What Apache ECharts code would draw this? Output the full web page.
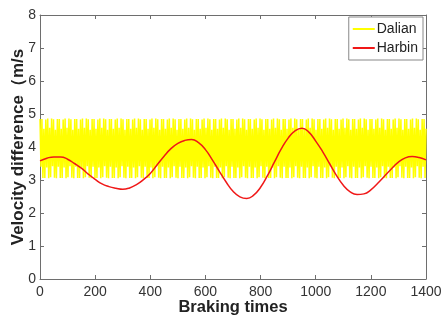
<!DOCTYPE html>
<html>
<head>
<meta charset="utf-8">
<script src="https://cdn.jsdelivr.net/npm/echarts@6/dist/echarts.min.js"></script>
<style>html,body{margin:0;padding:0;background:#fff}#c{width:441px;height:321px}</style>
</head>
<body>
<div id="c"></div>
<script>
// Axis ticks
const xTicks = [0, 200, 400, 600, 800, 1000, 1200, 1400];
const yTicks = [0, 1, 2, 3, 4, 5, 6, 7, 8];

// Dalian: dense oscillation, sampled every 3.5 braking times starting at 0
const dalianStart = 0;
const dalianStep = 3.5;
const dalianValues = [
4.85,3.40,4.85,3.06,4.55,3.06,4.83,3.38,4.86,3.05,4.58,3.08,
4.86,3.42,4.84,3.07,4.52,3.05,4.85,3.40,4.85,3.06,4.55,3.06,
4.83,3.38,4.86,3.05,4.58,3.08,4.86,3.42,4.84,3.07,4.52,3.05,
4.85,3.40,4.85,3.06,4.55,3.06,4.83,3.38,4.86,3.05,4.58,3.08,
4.86,3.42,4.84,3.07,4.52,3.05,4.85,3.40,4.85,3.06,4.55,3.06,
4.83,3.38,4.86,3.05,4.58,3.08,4.86,3.42,4.84,3.07,4.52,3.05,
4.85,3.40,4.85,3.06,4.55,3.06,4.83,3.38,4.86,3.05,4.58,3.08,
4.86,3.42,4.84,3.07,4.52,3.05,4.85,3.40,4.85,3.06,4.55,3.06,
4.83,3.38,4.86,3.05,4.58,3.08,4.86,3.42,4.84,3.07,4.52,3.05,
4.85,3.40,4.85,3.06,4.55,3.06,4.83,3.38,4.86,3.05,4.58,3.08,
4.86,3.42,4.84,3.07,4.52,3.05,4.85,3.40,4.85,3.06,4.55,3.06,
4.83,3.38,4.86,3.05,4.58,3.08,4.86,3.42,4.84,3.07,4.52,3.05,
4.85,3.40,4.85,3.06,4.55,3.06,4.83,3.38,4.86,3.05,4.58,3.08,
4.86,3.42,4.84,3.07,4.52,3.05,4.85,3.40,4.85,3.06,4.55,3.06,
4.83,3.38,4.86,3.05,4.58,3.08,4.86,3.42,4.84,3.07,4.52,3.05,
4.85,3.40,4.85,3.06,4.55,3.06,4.83,3.38,4.86,3.05,4.58,3.08,
4.86,3.42,4.84,3.07,4.52,3.05,4.85,3.40,4.85,3.06,4.55,3.06,
4.83,3.38,4.86,3.05,4.58,3.08,4.86,3.42,4.84,3.07,4.52,3.05,
4.85,3.40,4.85,3.06,4.55,3.06,4.83,3.38,4.86,3.05,4.58,3.08,
4.86,3.42,4.84,3.07,4.52,3.05,4.85,3.40,4.85,3.06,4.55,3.06,
4.83,3.38,4.86,3.05,4.58,3.08,4.86,3.42,4.84,3.07,4.52,3.05,
4.85,3.40,4.85,3.06,4.55,3.06,4.83,3.38,4.86,3.05,4.58,3.08,
4.86,3.42,4.84,3.07,4.52,3.05,4.85,3.40,4.85,3.06,4.55,3.06,
4.83,3.38,4.86,3.05,4.58,3.08,4.86,3.42,4.84,3.07,4.52,3.05,
4.85,3.40,4.85,3.06,4.55,3.06,4.83,3.38,4.86,3.05,4.58,3.08,
4.86,3.42,4.84,3.07,4.52,3.05,4.85,3.40,4.85,3.06,4.55,3.06,
4.83,3.38,4.86,3.05,4.58,3.08,4.86,3.42,4.84,3.07,4.52,3.05,
4.85,3.40,4.85,3.06,4.55,3.06,4.83,3.38,4.86,3.05,4.58,3.08,
4.86,3.42,4.84,3.07,4.52,3.05,4.85,3.40,4.85,3.06,4.55,3.06,
4.83,3.38,4.86,3.05,4.58,3.08,4.86,3.42,4.84,3.07,4.52,3.05,
4.85,3.40,4.85,3.06,4.55,3.06,4.83,3.38,4.86,3.05,4.58,3.08,
4.86,3.42,4.84,3.07,4.52,3.05,4.85,3.40,4.85,3.06,4.55,3.06,
4.83,3.38,4.86,3.05,4.58,3.08,4.86,3.42,4.84,3.07,4.52,3.05,
4.85,3.40,4.85,3.06,4.55
];

// Harbin: smooth curve, read every 25 braking times
const harbinX = [0,25,50,75,100,125,150,175,200,225,250,275,300,325,350,375,400,425,450,475,500,525,550,575,600,625,650,675,700,725,750,775,800,825,850,875,900,925,950,975,1000,1025,1050,1075,1100,1125,1150,1175,1200,1225,1250,1275,1300,1325,1350,1375,1400];
const harbinY = [3.58,3.66,3.70,3.70,3.63,3.50,3.36,3.18,3.02,2.88,2.80,2.75,2.72,2.76,2.86,3.01,3.20,3.46,3.72,3.95,4.11,4.20,4.23,4.13,3.92,3.61,3.27,2.94,2.66,2.49,2.44,2.54,2.78,3.13,3.54,3.94,4.27,4.49,4.57,4.45,4.18,3.86,3.50,3.14,2.84,2.64,2.56,2.58,2.70,2.90,3.12,3.34,3.54,3.67,3.71,3.68,3.61];

const seriesNames = ['Dalian', 'Harbin'];
const xName = 'Braking times';
const yName = 'Velocity difference（m/s';

const dalianData = dalianValues.map((v, i) => [dalianStart + i * dalianStep, v]);
const harbinData = harbinX.map((x, i) => [x, harbinY[i]]);

const frameColor = '#6e6e6e';
const labelColor = '#333';
const font = 'Liberation Sans, Arial, sans-serif';

const chart = echarts.init(document.getElementById('c'), null, {renderer: 'canvas'});
const baseX = {
  type: 'value', min: xTicks[0], max: xTicks[xTicks.length - 1], interval: xTicks[1] - xTicks[0],
  splitLine: {show: false},
  axisLine: {show: true, onZero: false, lineStyle: {color: frameColor, width: 1}},
  axisTick: {show: true, inside: true, length: 4, lineStyle: {color: frameColor}},
};
const baseY = {
  type: 'value', min: yTicks[0], max: yTicks[yTicks.length - 1], interval: yTicks[1] - yTicks[0],
  splitLine: {show: false},
  axisLine: {show: true, onZero: false, lineStyle: {color: frameColor, width: 1}},
  axisTick: {show: true, inside: true, length: 4, lineStyle: {color: frameColor}},
};
chart.setOption({
  animation: false,
  backgroundColor: '#fff',
  grid: {left: 40, right: 15, top: 15, bottom: 42, containLabel: false, outerBoundsMode: 'none'},
  legend: {
    data: seriesNames.map(n => ({name: n, icon: 'rect'})),
    orient: 'vertical', right: 18, top: 17,
    backgroundColor: '#fff', borderColor: '#888', borderWidth: 1,
    padding: [5, 5, 5, 4], itemGap: 5, itemWidth: 22, itemHeight: 2,
    textStyle: {fontFamily: font, fontSize: 14, color: '#222', padding: [0, 0, 0, -3]}
  },
  xAxis: [
    Object.assign({}, baseX, {
      position: 'bottom',
      name: xName, nameLocation: 'middle', nameGap: 20, nameMoveOverlap: false,
      nameTextStyle: {fontFamily: font, fontSize: 16.5, fontWeight: 'bold', color: '#222'},
      axisLabel: {show: true, margin: 6, fontFamily: font, fontSize: 14, color: labelColor,
                  formatter: v => String(v)}
    }),
    Object.assign({}, baseX, {position: 'top', axisLabel: {show: false}})
  ],
  yAxis: [
    Object.assign({}, baseY, {
      position: 'left',
      name: yName, nameLocation: 'middle', nameGap: 13, nameMoveOverlap: false,
      nameTextStyle: {fontFamily: font, fontSize: 17, fontWeight: 'bold', color: '#222'},
      axisLabel: {show: true, margin: 4, fontFamily: font, fontSize: 14, color: labelColor}
    }),
    Object.assign({}, baseY, {position: 'right', axisLabel: {show: false}})
  ],
  series: [
    {name: seriesNames[0], type: 'line', data: dalianData, symbol: 'none', showSymbol: false,
     lineStyle: {color: '#ffff00', width: 1.5}, itemStyle: {color: '#ffff00'}, z: 2},
    {name: seriesNames[1], type: 'line', data: harbinData, symbol: 'none', showSymbol: false, smooth: true,
     lineStyle: {color: '#f01818', width: 1.5}, itemStyle: {color: '#f01818'}, z: 3}
  ]
});
</script>
</body>
</html>
